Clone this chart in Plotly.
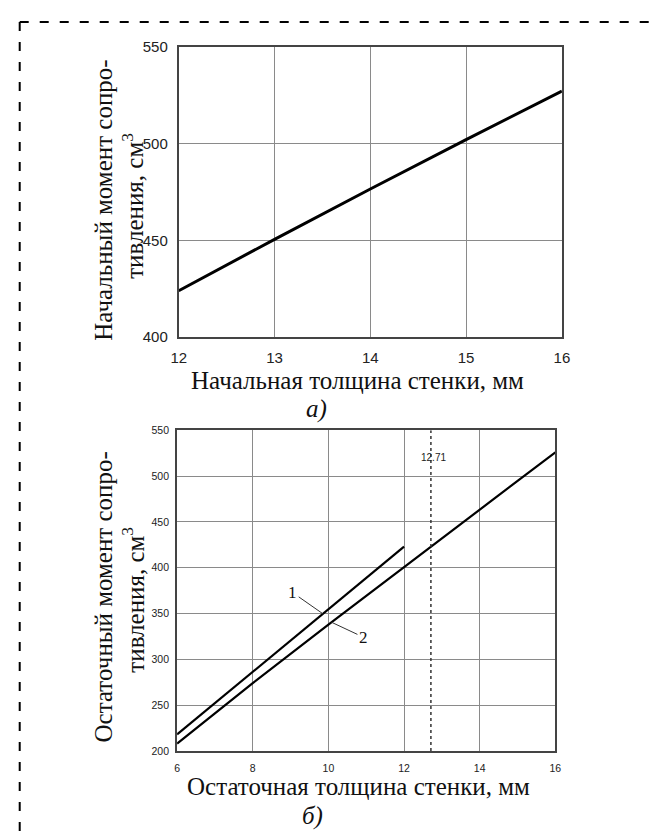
import numpy as np
import plotly.graph_objects as go

W, H = 658, 839

# (a) initial wall thickness vs initial section modulus
thick_initial = [12, 13, 14, 15, 16]
modulus_initial = [424, 450.5, 476.5, 502, 527]

# (b) residual wall thickness vs residual section modulus
thick_res_1 = [6, 8, 10, 12]
modulus_res_1 = [218, 286.5, 355, 423]
thick_res_2 = [6, 8, 10, 12, 14, 16]
modulus_res_2 = [208, 274, 338, 401, 464, 526]
limit_thickness = 12.71

x_ticks_a = [12, 13, 14, 15, 16]
y_ticks_a = [400, 450, 500, 550]
x_ticks_b = [6, 8, 10, 12, 14, 16]
y_ticks_b = [200, 250, 300, 350, 400, 450, 500, 550]

SERIF = "Liberation Serif, Times New Roman, serif"
SANS = "Liberation Sans, Arial, sans-serif"


def px_x(p):
    """pixel column -> paper x"""
    return p / W


def px_y(p):
    """pixel row -> paper y"""
    return 1 - p / H


fig = go.Figure()

fig.add_trace(go.Scatter(x=thick_initial, y=modulus_initial, mode="lines",
                         line=dict(color="black", width=3), xaxis="x", yaxis="y",
                         showlegend=False, hoverinfo="skip"))
fig.add_trace(go.Scatter(x=thick_res_1, y=modulus_res_1, mode="lines",
                         line=dict(color="black", width=2.2), xaxis="x2", yaxis="y2",
                         showlegend=False, hoverinfo="skip"))
fig.add_trace(go.Scatter(x=thick_res_2, y=modulus_res_2, mode="lines",
                         line=dict(color="black", width=2.2), xaxis="x2", yaxis="y2",
                         showlegend=False, hoverinfo="skip"))
fig.add_trace(go.Scatter(x=[limit_thickness, limit_thickness], y=[200, 550], mode="lines",
                         line=dict(color="#333333", width=1.5, dash="dot"),
                         xaxis="x2", yaxis="y2", showlegend=False, hoverinfo="skip"))

axis_common = dict(showgrid=True, gridcolor="#8a8a8a", gridwidth=1.4,
                   showline=True, linecolor="#444444", linewidth=2, mirror=True,
                   zeroline=False, ticks="", fixedrange=True)

fig.update_layout(
    width=W, height=H,
    margin=dict(l=0, r=0, t=0, b=0),
    paper_bgcolor="white", plot_bgcolor="white",
    xaxis=dict(axis_common, domain=[px_x(175), px_x(567.7)], range=[12, 16],
               tickvals=x_ticks_a, anchor="y",
               tickfont=dict(family=SANS, size=15, color="#222"), ticklabelstandoff=6),
    yaxis=dict(axis_common, domain=[px_y(335), px_y(38.3)], range=[400, 550],
               tickvals=y_ticks_a, anchor="x",
               tickfont=dict(family=SANS, size=15, color="#222"), ticklabelstandoff=6),
    xaxis2=dict(axis_common, domain=[px_x(173.3), px_x(561)], range=[6, 16],
                tickvals=x_ticks_b, anchor="y2",
                tickfont=dict(family=SANS, size=10.5, color="#222"), ticklabelstandoff=6),
    yaxis2=dict(axis_common, domain=[px_y(757.3), px_y(430)], range=[200, 550],
                tickvals=y_ticks_b, anchor="x2",
                tickfont=dict(family=SANS, size=10.5, color="#222"), ticklabelstandoff=4),
)

title_font = dict(family=SERIF, size=25, color="#111")
notes = [
    # axis titles, panel (a)
    dict(text="Начальная толщина стенки, мм", x=px_x(358), y=px_y(379)),
    dict(text="<i>а)</i>", x=px_x(316), y=px_y(408)),
    dict(text="Начальный момент сопро-", x=px_x(97), y=px_y(195), textangle=-90),
    dict(text="тивления, см<sup>3</sup>", x=px_x(128), y=px_y(201), textangle=-90),
    # axis titles, panel (b)
    dict(text="Остаточная толщина стенки, мм", x=px_x(359), y=px_y(794)),
    dict(text="<i>б)</i>", x=px_x(312), y=px_y(824)),
    dict(text="Остаточный момент сопро-", x=px_x(98), y=px_y(600), textangle=-90),
    dict(text="тивления, см<sup>3</sup>", x=px_x(128), y=px_y(603), textangle=-90),
]
for n in notes:
    fig.add_annotation(xref="paper", yref="paper", showarrow=False,
                       xanchor="center", yanchor="middle",
                       font=title_font, **n)

# label of the limiting thickness line
fig.add_annotation(x=limit_thickness, y=520, xref="x2", yref="y2", showarrow=False,
                   text=f"{limit_thickness:.2f}", xanchor="center", yanchor="middle",
                   xshift=3, font=dict(family=SANS, size=10, color="#222"))

# curve labels with leader lines
x1_tip, x2_tip = 9.85, 10.08
fig.add_annotation(x=x1_tip, y=float(np.interp(x1_tip, thick_res_1, modulus_res_1)),
                   xref="x2", yref="y2", text="1", showarrow=True, arrowhead=0,
                   arrowwidth=1, arrowcolor="#333", ax=-30, ay=-21, standoff=0,
                   font=dict(family=SERIF, size=17, color="#111"))
fig.add_annotation(x=x2_tip, y=float(np.interp(x2_tip, thick_res_2, modulus_res_2)),
                   xref="x2", yref="y2", text="2", showarrow=True, arrowhead=0,
                   arrowwidth=1, arrowcolor="#333", ax=32, ay=15, standoff=0,
                   font=dict(family=SERIF, size=17, color="#111"))

# dashed frame along the top and left edges
frame = dict(type="line", xref="paper", yref="paper",
             line=dict(color="black", width=2, dash="9px,11px"))
fig.add_shape(x0=px_x(12), y0=px_y(13.3), x1=1, y1=px_y(13.3), **frame)
fig.add_shape(x0=px_x(12), y0=px_y(13.3), x1=px_x(12), y1=0, **frame)

fig.write_html("out.html")
